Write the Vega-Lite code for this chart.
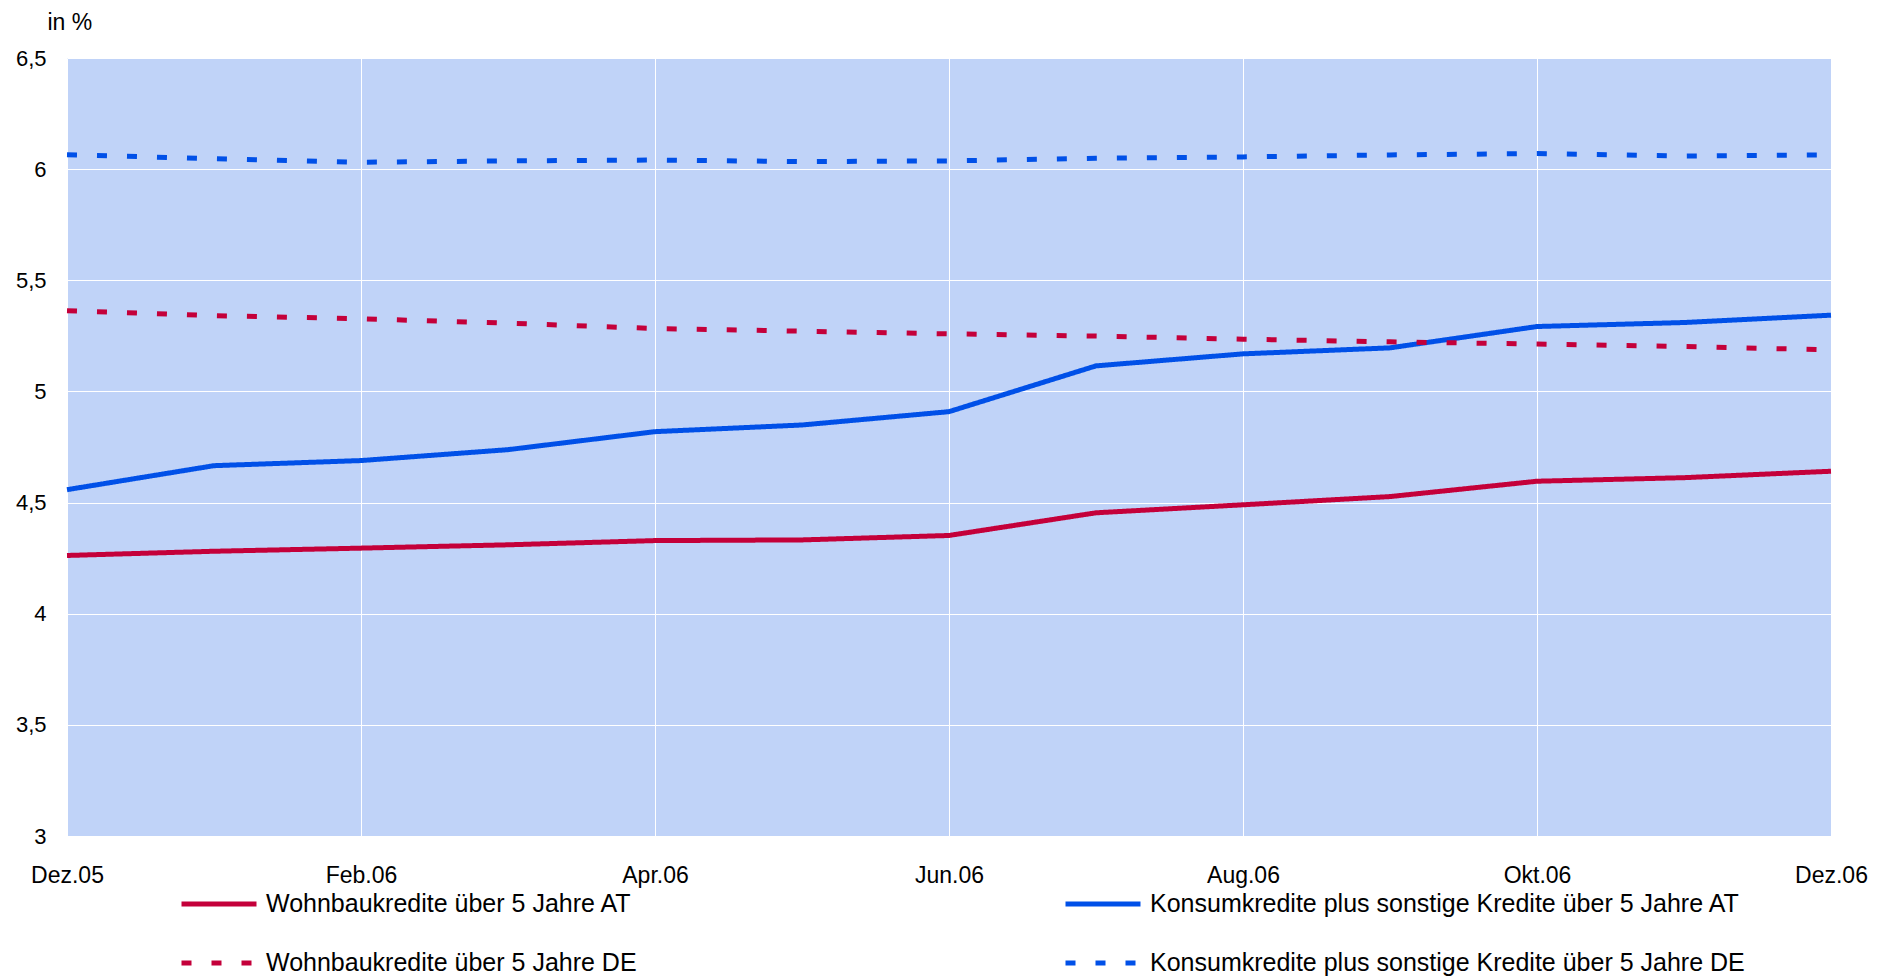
{
  "$schema": "https://vega.github.io/schema/vega-lite/v6.json",
  "width": 1764,
  "height": 778,
  "autosize": {"type": "none"},
  "padding": {"left": 67, "top": 58, "right": 59, "bottom": 143},
  "background": "white",
  "config": {
    "view": {"fill": "#C0D3F8", "stroke": null},
    "font": "Liberation Sans"
  },
  "data": {
    "values": [
      {"m": "Dez.05", "s": "Wohnbaukredite über 5 Jahre AT", "v": 4.262},
      {"m": "Jan.06", "s": "Wohnbaukredite über 5 Jahre AT", "v": 4.281},
      {"m": "Feb.06", "s": "Wohnbaukredite über 5 Jahre AT", "v": 4.295},
      {"m": "Mär.06", "s": "Wohnbaukredite über 5 Jahre AT", "v": 4.310},
      {"m": "Apr.06", "s": "Wohnbaukredite über 5 Jahre AT", "v": 4.329},
      {"m": "Mai.06", "s": "Wohnbaukredite über 5 Jahre AT", "v": 4.332},
      {"m": "Jun.06", "s": "Wohnbaukredite über 5 Jahre AT", "v": 4.352},
      {"m": "Jul.06", "s": "Wohnbaukredite über 5 Jahre AT", "v": 4.454},
      {"m": "Aug.06", "s": "Wohnbaukredite über 5 Jahre AT", "v": 4.490},
      {"m": "Sep.06", "s": "Wohnbaukredite über 5 Jahre AT", "v": 4.527},
      {"m": "Okt.06", "s": "Wohnbaukredite über 5 Jahre AT", "v": 4.596},
      {"m": "Nov.06", "s": "Wohnbaukredite über 5 Jahre AT", "v": 4.612},
      {"m": "Dez.06", "s": "Wohnbaukredite über 5 Jahre AT", "v": 4.641},
      {"m": "Dez.05", "s": "Konsumkredite plus sonstige Kredite über 5 Jahre AT", "v": 4.558},
      {"m": "Jan.06", "s": "Konsumkredite plus sonstige Kredite über 5 Jahre AT", "v": 4.666},
      {"m": "Feb.06", "s": "Konsumkredite plus sonstige Kredite über 5 Jahre AT", "v": 4.689},
      {"m": "Mär.06", "s": "Konsumkredite plus sonstige Kredite über 5 Jahre AT", "v": 4.738},
      {"m": "Apr.06", "s": "Konsumkredite plus sonstige Kredite über 5 Jahre AT", "v": 4.819},
      {"m": "Mai.06", "s": "Konsumkredite plus sonstige Kredite über 5 Jahre AT", "v": 4.849},
      {"m": "Jun.06", "s": "Konsumkredite plus sonstige Kredite über 5 Jahre AT", "v": 4.909},
      {"m": "Jul.06", "s": "Konsumkredite plus sonstige Kredite über 5 Jahre AT", "v": 5.115},
      {"m": "Aug.06", "s": "Konsumkredite plus sonstige Kredite über 5 Jahre AT", "v": 5.169},
      {"m": "Sep.06", "s": "Konsumkredite plus sonstige Kredite über 5 Jahre AT", "v": 5.196},
      {"m": "Okt.06", "s": "Konsumkredite plus sonstige Kredite über 5 Jahre AT", "v": 5.292},
      {"m": "Nov.06", "s": "Konsumkredite plus sonstige Kredite über 5 Jahre AT", "v": 5.310},
      {"m": "Dez.06", "s": "Konsumkredite plus sonstige Kredite über 5 Jahre AT", "v": 5.343},
      {"m": "Dez.05", "s": "Wohnbaukredite über 5 Jahre DE", "v": 5.363},
      {"m": "Jan.06", "s": "Wohnbaukredite über 5 Jahre DE", "v": 5.341},
      {"m": "Feb.06", "s": "Wohnbaukredite über 5 Jahre DE", "v": 5.327},
      {"m": "Mär.06", "s": "Wohnbaukredite über 5 Jahre DE", "v": 5.307},
      {"m": "Apr.06", "s": "Wohnbaukredite über 5 Jahre DE", "v": 5.283},
      {"m": "Mai.06", "s": "Wohnbaukredite über 5 Jahre DE", "v": 5.271},
      {"m": "Jun.06", "s": "Wohnbaukredite über 5 Jahre DE", "v": 5.259},
      {"m": "Jul.06", "s": "Wohnbaukredite über 5 Jahre DE", "v": 5.249},
      {"m": "Aug.06", "s": "Wohnbaukredite über 5 Jahre DE", "v": 5.235},
      {"m": "Sep.06", "s": "Wohnbaukredite über 5 Jahre DE", "v": 5.223},
      {"m": "Okt.06", "s": "Wohnbaukredite über 5 Jahre DE", "v": 5.213},
      {"m": "Nov.06", "s": "Wohnbaukredite über 5 Jahre DE", "v": 5.202},
      {"m": "Dez.06", "s": "Wohnbaukredite über 5 Jahre DE", "v": 5.187},
      {"m": "Dez.05", "s": "Konsumkredite plus sonstige Kredite über 5 Jahre DE", "v": 6.065},
      {"m": "Jan.06", "s": "Konsumkredite plus sonstige Kredite über 5 Jahre DE", "v": 6.047},
      {"m": "Feb.06", "s": "Konsumkredite plus sonstige Kredite über 5 Jahre DE", "v": 6.031},
      {"m": "Mär.06", "s": "Konsumkredite plus sonstige Kredite über 5 Jahre DE", "v": 6.037},
      {"m": "Apr.06", "s": "Konsumkredite plus sonstige Kredite über 5 Jahre DE", "v": 6.041},
      {"m": "Mai.06", "s": "Konsumkredite plus sonstige Kredite über 5 Jahre DE", "v": 6.034},
      {"m": "Jun.06", "s": "Konsumkredite plus sonstige Kredite über 5 Jahre DE", "v": 6.037},
      {"m": "Jul.06", "s": "Konsumkredite plus sonstige Kredite über 5 Jahre DE", "v": 6.049},
      {"m": "Aug.06", "s": "Konsumkredite plus sonstige Kredite über 5 Jahre DE", "v": 6.055},
      {"m": "Sep.06", "s": "Konsumkredite plus sonstige Kredite über 5 Jahre DE", "v": 6.064},
      {"m": "Okt.06", "s": "Konsumkredite plus sonstige Kredite über 5 Jahre DE", "v": 6.070},
      {"m": "Nov.06", "s": "Konsumkredite plus sonstige Kredite über 5 Jahre DE", "v": 6.059},
      {"m": "Dez.06", "s": "Konsumkredite plus sonstige Kredite über 5 Jahre DE", "v": 6.064}
    ]
  },
  "mark": {"type": "line", "strokeWidth": 5, "strokeCap": "butt", "strokeJoin": "round"},
  "encoding": {
    "x": {
      "field": "m",
      "type": "ordinal",
      "sort": ["Dez.05","Jan.06","Feb.06","Mär.06","Apr.06","Mai.06","Jun.06","Jul.06","Aug.06","Sep.06","Okt.06","Nov.06","Dez.06"],
      "scale": {"type": "point", "padding": 0},
      "axis": {
        "title": null,
        "values": ["Dez.05","Feb.06","Apr.06","Jun.06","Aug.06","Okt.06","Dez.06"],
        "labelAngle": 0,
        "labelFontSize": 23,
        "labelColor": "#000000",
        "labelPadding": 28,
        "labelBaseline": "top",
        "ticks": false,
        "tickSize": 0,
        "domain": false,
        "grid": true,
        "gridColor": "#FFFFFF",
        "gridWidth": 1
      }
    },
    "y": {
      "field": "v",
      "type": "quantitative",
      "scale": {"domain": [3, 6.5], "nice": false, "zero": false},
      "axis": {
        "title": "in %",
        "titleAngle": 0,
        "titleAlign": "left",
        "titleBaseline": "alphabetic",
        "titleX": -20,
        "titleY": -29,
        "titleFontSize": 23,
        "titleFontWeight": "normal",
        "titleColor": "#000000",
        "values": [3, 3.5, 4, 4.5, 5, 5.5, 6, 6.5],
        "labelExpr": "replace(toString(datum.value), '.', ',')",
        "labelFontSize": 22,
        "labelColor": "#000000",
        "labelPadding": 21,
        "ticks": false,
        "tickSize": 0,
        "domain": false,
        "grid": true,
        "gridColor": "#FFFFFF",
        "gridWidth": 1
      }
    },
    "color": {
      "field": "s",
      "type": "nominal",
      "sort": ["Wohnbaukredite über 5 Jahre AT", "Wohnbaukredite über 5 Jahre DE", "Konsumkredite plus sonstige Kredite über 5 Jahre AT", "Konsumkredite plus sonstige Kredite über 5 Jahre DE"],
      "scale": {
        "domain": ["Wohnbaukredite über 5 Jahre AT", "Wohnbaukredite über 5 Jahre DE", "Konsumkredite plus sonstige Kredite über 5 Jahre AT", "Konsumkredite plus sonstige Kredite über 5 Jahre DE"],
        "range": ["#C4003A", "#C4003A", "#0050E8", "#0050E8"]
      },
      "legend": {
        "title": null,
        "orient": "none",
        "legendX": 112,
        "legendY": 806,
        "columns": 2,
        "columnPadding": 418,
        "rowPadding": 6,
        "padding": 0,
        "symbolType": "stroke",
        "symbolSize": 5625,
        "symbolStrokeWidth": 5,
        "labelFontSize": 25,
        "labelColor": "#000000",
        "labelOffset": 7,
        "labelLimit": 1000
      }
    },
    "strokeDash": {
      "field": "s",
      "type": "nominal",
      "sort": ["Wohnbaukredite über 5 Jahre AT", "Wohnbaukredite über 5 Jahre DE", "Konsumkredite plus sonstige Kredite über 5 Jahre AT", "Konsumkredite plus sonstige Kredite über 5 Jahre DE"],
      "scale": {
        "domain": ["Wohnbaukredite über 5 Jahre AT", "Wohnbaukredite über 5 Jahre DE", "Konsumkredite plus sonstige Kredite über 5 Jahre AT", "Konsumkredite plus sonstige Kredite über 5 Jahre DE"],
        "range": [[1, 0], [10, 20], [1, 0], [10, 20]]
      }
    }
  }
}
